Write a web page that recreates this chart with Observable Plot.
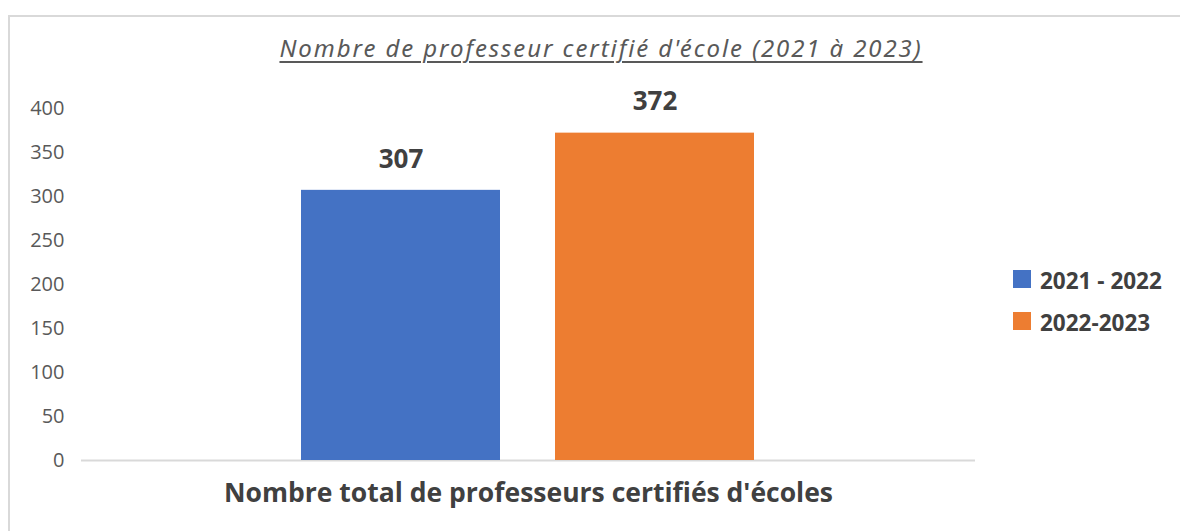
<!DOCTYPE html>
<html>
<head>
<meta charset="utf-8">
<script src="https://cdn.jsdelivr.net/npm/d3@7"></script>
<script src="https://cdn.jsdelivr.net/npm/@observablehq/plot@0.6"></script>
<style>
  html, body { margin: 0; padding: 0; background: #fff; }
  #wrap { position: relative; width: 1180px; height: 531px; overflow: hidden; background: #fff; font-family: "Open Sans", sans-serif; }
  #frame { position: absolute; left: 8px; top: 15px; width: 1300px; height: 700px; border-left: 2px solid #d9d9d9; border-top: 2px solid #d9d9d9; }
  #title { position: absolute; left: 0; top: 33px; width: 1202px; text-align: center; font-family: "Noto Sans", sans-serif; font-style: italic; font-size: 24px; line-height: 30px; letter-spacing: 1.9px; color: #595959; text-decoration: underline; text-underline-offset: 4px; text-decoration-thickness: 1.5px; }
  #chart { position: absolute; left: 0; top: 0; }
  #legend { position: absolute; left: 1013px; top: 268px; }
  .item { display: flex; align-items: center; height: 24px; margin-bottom: 18px; font-size: 22.5px; font-weight: bold; color: #404040; }
  .sw { width: 18px; height: 18px; margin-right: 9px; margin-top: -3px; }
</style>
</head>
<body>
<div id="wrap">
  <div id="frame"></div>
  <div id="title"></div>
  <div id="chart"></div>
  <div id="legend"></div>
</div>
<script>
const titleText = "Nombre de professeur certifié d'école (2021 à 2023)";
const category = "Nombre total de professeurs certifiés d'écoles";
const series = ["2021 - 2022", "2022-2023"];
const values = [307, 372];
const colors = ["#4472C4", "#ED7D31"];
const yTicks = [0, 50, 100, 150, 200, 250, 300, 350, 400];

document.getElementById("title").textContent = titleText;

const data = series.map((s, i) => ({category, series: s, value: values[i]}));

const chart = Plot.plot({
  width: 1180,
  height: 531,
  marginLeft: 81,
  marginRight: 205,
  marginTop: 108,
  marginBottom: 71,
  style: {fontFamily: "'Open Sans', sans-serif", background: "transparent", overflow: "visible"},
  fx: {domain: [category], padding: 0, label: null, axis: null},
  x: {domain: series, axis: null, paddingInner: 0.2157, paddingOuter: 0.861},
  y: {domain: [0, 400], axis: null},
  color: {domain: series, range: colors},
  marks: [
    Plot.axisY({ticks: yTicks, tickSize: 0, tickPadding: 17, fontSize: 20, fill: "#595959", label: null}),
    Plot.ruleY([0], {stroke: "#d9d9d9", strokeWidth: 2}),
    Plot.barY(data, {fx: "category", x: "series", y: "value", fill: "series"}),
    Plot.text(data, {fx: "category", x: "series", y: "value", text: d => String(d.value), dy: -31, fontSize: 26, fontWeight: "bold", fill: "#404040"}),
    Plot.axisFx({anchor: "bottom", tickSize: 0, tickPadding: 23, fontSize: 26.5, fontWeight: "bold", fill: "#404040", label: null})
  ]
});
document.getElementById("chart").appendChild(chart);

const legend = document.getElementById("legend");
series.forEach((s, i) => {
  const item = document.createElement("div");
  item.className = "item";
  const sw = document.createElement("div");
  sw.className = "sw";
  sw.style.background = colors[i];
  const t = document.createElement("span");
  t.textContent = s;
  item.appendChild(sw);
  item.appendChild(t);
  legend.appendChild(item);
});
</script>
</body>
</html>
